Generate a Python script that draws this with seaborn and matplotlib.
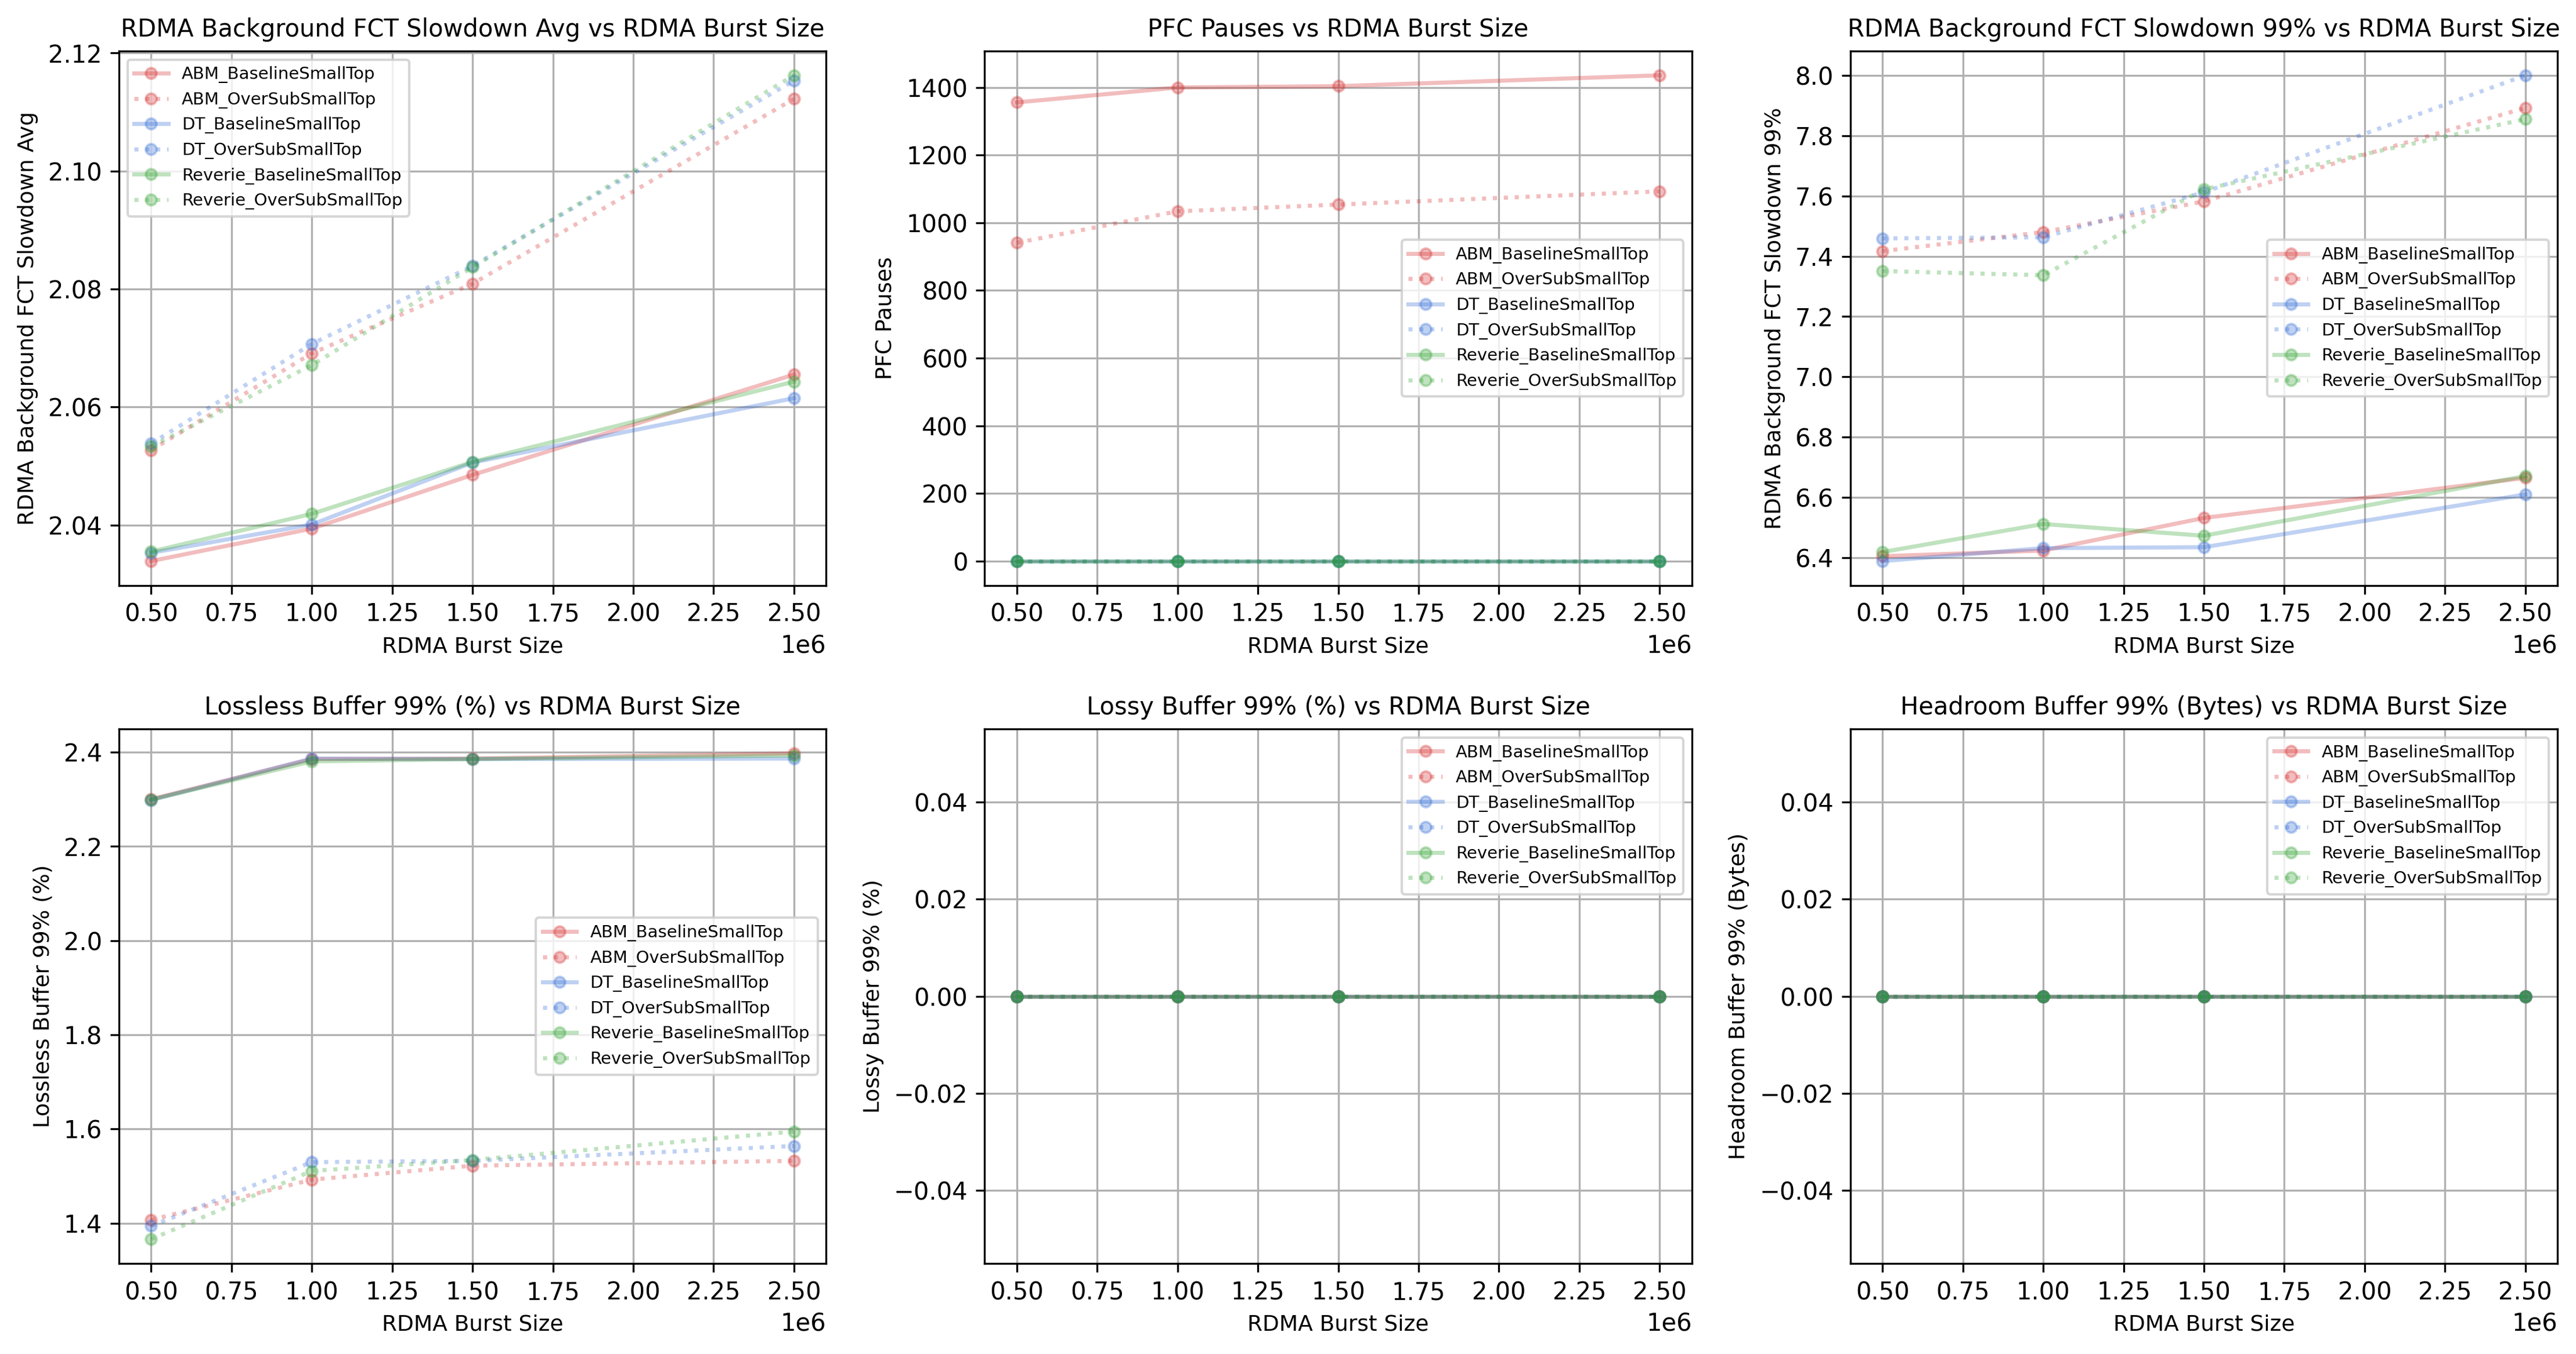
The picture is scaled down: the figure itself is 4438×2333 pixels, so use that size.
import numpy as np
import pandas as pd
import matplotlib
matplotlib.use("Agg")
import matplotlib.pyplot as plt
import seaborn as sns

# ---------------- data ----------------
burst_sizes = [500000, 1000000, 1500000, 2500000]

series_names = [
    "ABM_BaselineSmallTop", "ABM_OverSubSmallTop",
    "DT_BaselineSmallTop", "DT_OverSubSmallTop",
    "Reverie_BaselineSmallTop", "Reverie_OverSubSmallTop",
]

fct_avg_abm_base = [2.0339, 2.0394, 2.0485, 2.0655]
fct_avg_abm_over = [2.0527, 2.0691, 2.0809, 2.1122]
fct_avg_dt_base = [2.0353, 2.0401, 2.0506, 2.0615]
fct_avg_dt_over = [2.0538, 2.0707, 2.0839, 2.1153]
fct_avg_rev_base = [2.0355, 2.0419, 2.0507, 2.0643]
fct_avg_rev_over = [2.0533, 2.0671, 2.0837, 2.1162]

pfc_abm_base = [1356, 1400, 1404, 1436]
pfc_abm_over = [941, 1034, 1054, 1093]
pfc_dt_base = [0, 0, 0, 0]
pfc_dt_over = [0, 0, 0, 0]
pfc_rev_base = [0, 0, 0, 0]
pfc_rev_over = [0, 0, 0, 0]

fct99_abm_base = [6.405, 6.424, 6.532, 6.665]
fct99_abm_over = [7.417, 7.480, 7.582, 7.892]
fct99_dt_base = [6.389, 6.432, 6.435, 6.610]
fct99_dt_over = [7.459, 7.463, 7.612, 8.000]
fct99_rev_base = [6.419, 6.512, 6.473, 6.671]
fct99_rev_over = [7.351, 7.337, 7.622, 7.855]

lossless_abm_base = [2.2998, 2.385, 2.386, 2.397]
lossless_abm_over = [1.4074, 1.4928, 1.5224, 1.5327]
lossless_dt_base = [2.298, 2.386, 2.385, 2.386]
lossless_dt_over = [1.3944, 1.5299, 1.5327, 1.5642]
lossless_rev_base = [2.299, 2.380, 2.385, 2.3926]
lossless_rev_over = [1.3666, 1.5113, 1.5345, 1.5948]

lossy_all = [0.0, 0.0, 0.0, 0.0]
headroom_all = [0.0, 0.0, 0.0, 0.0]

panel_titles = [
    "RDMA Background FCT Slowdown Avg vs RDMA Burst Size",
    "PFC Pauses vs RDMA Burst Size",
    "RDMA Background FCT Slowdown 99% vs RDMA Burst Size",
    "Lossless Buffer 99% (%) vs RDMA Burst Size",
    "Lossy Buffer 99% (%) vs RDMA Burst Size",
    "Headroom Buffer 99% (Bytes) vs RDMA Burst Size",
]
panel_ylabels = [
    "RDMA Background FCT Slowdown Avg",
    "PFC Pauses",
    "RDMA Background FCT Slowdown 99%",
    "Lossless Buffer 99% (%)",
    "Lossy Buffer 99% (%)",
    "Headroom Buffer 99% (Bytes)",
]
xlabel = "RDMA Burst Size"

panel_values = [
    [fct_avg_abm_base, fct_avg_abm_over, fct_avg_dt_base, fct_avg_dt_over, fct_avg_rev_base, fct_avg_rev_over],
    [pfc_abm_base, pfc_abm_over, pfc_dt_base, pfc_dt_over, pfc_rev_base, pfc_rev_over],
    [fct99_abm_base, fct99_abm_over, fct99_dt_base, fct99_dt_over, fct99_rev_base, fct99_rev_over],
    [lossless_abm_base, lossless_abm_over, lossless_dt_base, lossless_dt_over, lossless_rev_base, lossless_rev_over],
    [lossy_all] * 6,
    [headroom_all] * 6,
]

# ---------------- style ----------------
scheme_colors = {"ABM": "#d62728", "DT": "#2d69d7", "Reverie": "#2ca02c"}
legend_locs = ["upper left", "center right", "center right",
               "center right", "upper right", "upper right"]

plt.rcParams["font.family"] = ["DejaVu Sans"]

fig, axes = plt.subplots(2, 3, figsize=(4438 / 300, 2333 / 300), dpi=300)
fig.subplots_adjust(left=0.0462, right=0.9928, bottom=0.0669, top=0.9623,
                    wspace=0.2243, hspace=0.269)

for i, ax in enumerate(axes.flat):
    for name, vals in zip(series_names, panel_values[i]):
        scheme = name.split("_")[0]
        ls = ":" if "OverSub" in name else "-"
        c = scheme_colors[scheme]
        df = pd.DataFrame({"x": burst_sizes, "y": vals})
        sns.lineplot(data=df, x="x", y="y", ax=ax, color=c, linestyle=ls,
                     marker="o", markersize=4.5, markeredgecolor=c,
                     markeredgewidth=1.0, alpha=0.3, linewidth=1.7,
                     label=name, estimator=None, sort=False)
    ax.set_title(panel_titles[i], fontsize=10)
    ax.set_xlabel(xlabel, fontsize=9)
    ax.set_ylabel(panel_ylabels[i], fontsize=9)
    ax.grid(True)
    ax.legend(loc=legend_locs[i], fontsize=7)

fig.savefig("out.png", dpi=300)
